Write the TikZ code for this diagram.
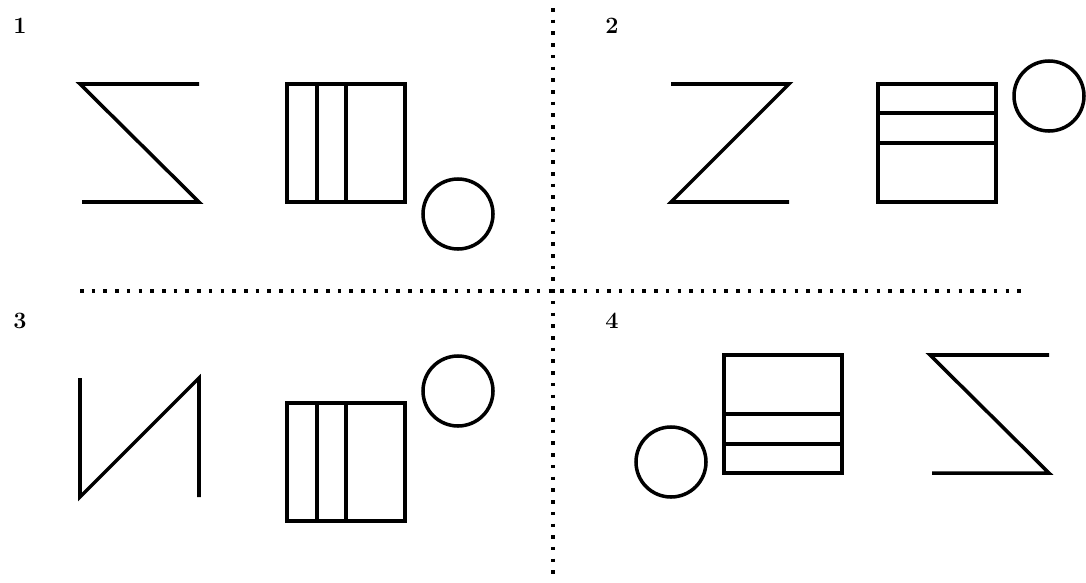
\documentclass[tikz,border=0pt]{standalone}
\usepackage{tikz}
\begin{document}
\begin{tikzpicture}[x=0.03cm, y=-0.03cm,
		hinh/.style={line width=3pt, line join=miter},
		ngan/.style={line width=3pt, dash pattern=on 3pt off 7pt},
		so/.style={font=\bfseries\fontsize{20}{24}\selectfont, inner sep=0pt}]
	\useasboundingbox (0,0) rectangle (1086,582);
	
	% Đường chia bốn ô
	\draw[ngan] (553,8) -- (553,582);
	\draw[ngan] (80,291) -- (1028,291);
	
	% Số thứ tự
	\node[so] (n1) at (20,26) {1};
	\node[so] (n2) at (612,26) {2};
	\node[so] (n3) at (20,321) {3};
	\node[so] (n4) at (612,321) {4};
	
	% Ô 1
	\draw[hinh] (199,84) -- (80,84) -- (199,202) -- (82,202);
	\draw[hinh] (287,84) rectangle (405,202);
	\draw[hinh] (317,84) -- (317,202);
	\draw[hinh] (346,84) -- (346,202);
	\draw[hinh] (458,214) circle (35);
	
	% Ô 2
	\draw[hinh] (671,84) -- (789,84) -- (671,202) -- (789,202);
	\draw[hinh] (878,84) rectangle (996,202);
	\draw[hinh] (878,113) -- (996,113);
	\draw[hinh] (878,143) -- (996,143);
	\draw[hinh] (1049,96) circle (35);
	
	% Ô 3
	\draw[hinh] (80,378) -- (80,497) -- (199,378) -- (199,497);
	\draw[hinh] (287,403) rectangle (405,521);
	\draw[hinh] (317,403) -- (317,521);
	\draw[hinh] (346,403) -- (346,521);
	\draw[hinh] (458,391) circle (35);
	
	% Ô 4
	\draw[hinh] (671,462) circle (35);
	\draw[hinh] (724,355) rectangle (842,473);
	\draw[hinh] (724,414) -- (842,414);
	\draw[hinh] (724,444) -- (842,444);
	\draw[hinh] (1049,355) -- (930,355) -- (1049,473) -- (932,473);
\end{tikzpicture}
\end{document}
